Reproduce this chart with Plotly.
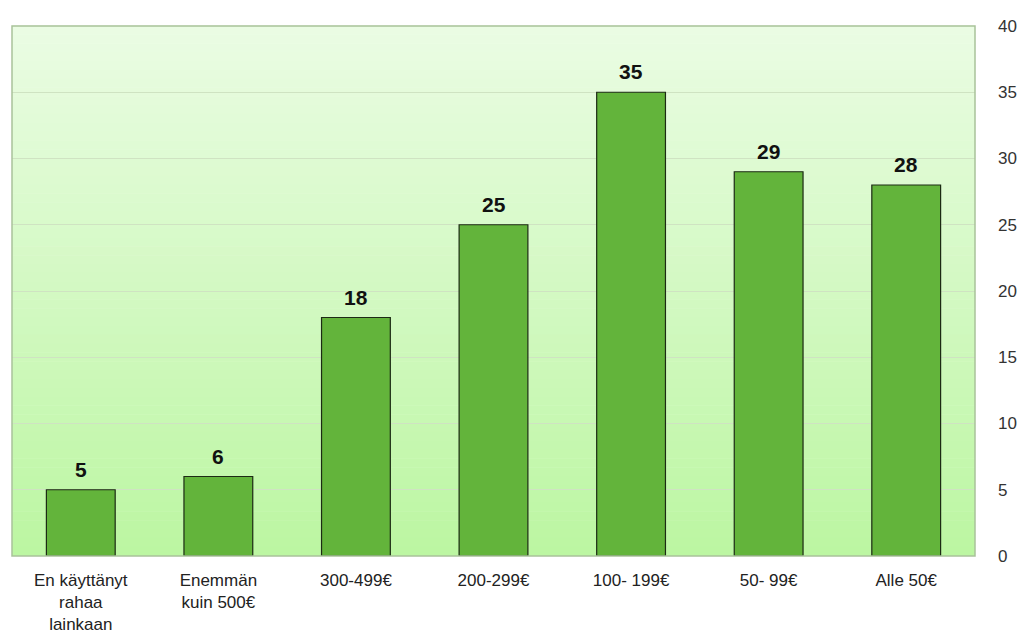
import plotly.graph_objects as go

# Survey: money spent, number of respondents per spending band
categories = [
    "En käyttänyt<br>rahaa<br>lainkaan",
    "Enemmän<br>kuin 500€",
    "300-499€",
    "200-299€",
    "100- 199€",
    "50- 99€",
    "Alle 50€",
]
counts = [5, 6, 18, 25, 35, 29, 28]
y_ticks = [0, 5, 10, 15, 20, 25, 30, 35, 40]

FONT = "Liberation Sans, Arial, sans-serif"

fig = go.Figure()
fig.add_trace(go.Bar(
    x=categories,
    y=counts,
    marker=dict(color="#63b43b", line=dict(color="#1c2a14", width=1.2)),
))

# value labels above each bar
for cat, v in zip(categories, counts):
    fig.add_annotation(
        x=cat, y=v, text="<b>%d</b>" % v, showarrow=False,
        yanchor="bottom", yshift=7,
        font=dict(family=FONT, size=21, color="#111111"),
    )

# vertical gradient backdrop for the plotting area
top = (0xEA, 0xFC, 0xE3)
bottom = (0xBC, 0xF6, 0xA2)
n = 60
for i in range(n):
    t = i / (n - 1)
    c = tuple(round(top[k] + (bottom[k] - top[k]) * t) for k in range(3))
    fig.add_shape(
        type="rect", xref="x domain", yref="y domain",
        x0=0, x1=1, y0=1 - (i + 1) / n, y1=1 - i / n + 0.001,
        fillcolor="rgb(%d,%d,%d)" % c, line=dict(width=0), layer="below",
    )
# frame around the plotting area
fig.add_shape(
    type="rect", xref="x domain", yref="y domain",
    x0=0, x1=1, y0=0, y1=1,
    line=dict(color="#a9c29a", width=1.5), fillcolor="rgba(0,0,0,0)", layer="above",
)

fig.update_layout(
    width=1024, height=639,
    margin=dict(l=12, r=49, t=26, b=83),
    paper_bgcolor="white",
    plot_bgcolor="rgba(0,0,0,0)",
    bargap=0.5,
    showlegend=False,
    font=dict(family=FONT, size=17, color="#222222"),
)
fig.update_xaxes(
    showgrid=False, showline=False, ticks="", automargin=False,
    ticklabelstandoff=12,
    tickfont=dict(size=17, color="#222222"),
)
fig.update_yaxes(
    side="right", range=[0, 40], tickvals=y_ticks, automargin=False,
    showgrid=True, gridcolor="#cfe3c2", gridwidth=1,
    zeroline=False, showline=False, ticks="",
    ticklabelstandoff=22,
    tickfont=dict(size=17, color="#333333"),
)

fig.write_html("out.html")
